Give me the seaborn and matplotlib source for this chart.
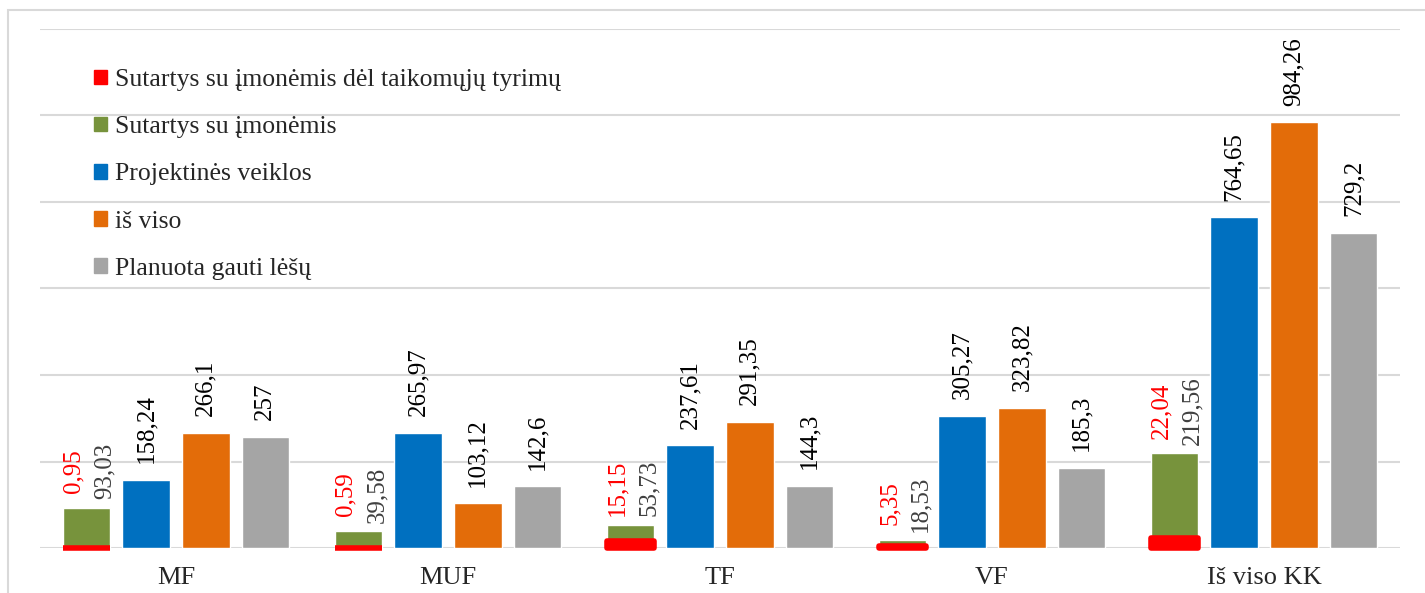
import numpy as np
import pandas as pd
import matplotlib
matplotlib.use("Agg")
import matplotlib.pyplot as plt
from matplotlib.patches import Patch, Rectangle
import seaborn as sns

# duomenys
categories = ["MF", "MUF", "TF", "VF", "Iš viso KK"]
taikomieji = [0.95, 0.59, 15.15, 5.35, 22.04]
imones = [93.03, 39.58, 53.73, 18.53, 219.56]
projektai = [158.24, 265.97, 237.61, 305.27, 764.65]
is_viso = [266.1, 103.12, 291.35, 323.82, 984.26]
planuota = [257, 142.6, 144.3, 185.3, 729.2]

names = ["Sutartys su įmonėmis dėl taikomųjų tyrimų", "Sutartys su įmonėmis",
         "Projektinės veiklos", "iš viso", "Planuota gauti lėšų"]
colors = ["#FF0000", "#77933C", "#0070C0", "#E36C09", "#A5A5A5"]

sns.set_style("white")
plt.rcParams["font.family"] = ["Liberation Serif", "DejaVu Serif"]

df = pd.DataFrame({"kat": categories, names[1]: imones, names[2]: projektai,
                   names[3]: is_viso, names[4]: planuota})
long = df.melt(id_vars="kat", var_name="serija", value_name="reiksme")


def fmt(v):
    return f"{v:g}".replace(".", ",")


fig = plt.figure(figsize=(14.25, 5.93), dpi=100)
W, H = 1425, 593
ax = fig.add_axes([40 / W, (H - 548) / H, (1400 - 40) / W, (548 - 29) / H])

sns.barplot(data=long, x="kat", y="reiksme", hue="serija", order=categories,
            hue_order=names[1:], palette=colors[1:], width=0.876, gap=0.2,
            saturation=1, errorbar=None, legend=False, ax=ax, zorder=2)

ax.set_ylim(0, 1200)
ax.set_xlim(-0.5, 4.5)
ax.set_yticks(np.arange(0, 1201, 200))
ax.set_yticklabels([])
ax.grid(axis="y", color="#D9D9D9", linewidth=1.5, zorder=0)
ax.set_axisbelow(True)
for s in ax.spines.values():
    s.set_visible(False)
ax.tick_params(axis="both", length=0)
ax.tick_params(axis="x", labelsize=19, pad=14)
ax.set_xlabel("")
ax.set_ylabel("")

# raudoni stulpeliai ant žaliųjų
green = sorted(ax.containers[0], key=lambda p: p.get_x())
xs = [p.get_x() for p in green]
w = green[0].get_width()
ax.bar(xs, taikomieji, width=w, align="edge", color=colors[0], edgecolor=colors[0],
       linewidth=4, joinstyle="round", zorder=3, clip_on=False)

# reikšmių etiketės
fs = 18
for cont, vals in zip(ax.containers[1:4], [projektai, is_viso, planuota]):
    ax.bar_label(cont, labels=[fmt(v) for v in vals], rotation=90, padding=12,
                 fontsize=fs, color="black")

for p, g, r in zip(green, imones, taikomieji):
    xc = p.get_x() + p.get_width() / 2
    glab = fmt(g)
    ln = fs * (0.5 * sum(c.isdigit() for c in glab) + 0.25)
    pad = 6
    ax.annotate(glab, (xc, g), xytext=(13, pad), textcoords="offset points",
                rotation=90, ha="center", va="bottom", fontsize=fs, color="#404040")
    ax.annotate(fmt(r), (xc, g), xytext=(-9.5, pad + ln / 2), textcoords="offset points",
                rotation=90, ha="center", va="center", fontsize=fs, color=colors[0])

handles = [Patch(facecolor=c, edgecolor=c) for c in colors]
fig.legend(handles, names, loc="upper left", bbox_to_anchor=(94 / W, 1 - 69 / H),
           frameon=False, fontsize=18.5, handlelength=0.5, handleheight=0.5,
           handletextpad=0.3, labelspacing=0.98, borderpad=0, borderaxespad=0)

fig.add_artist(Rectangle((8 / W, -0.05), 1.1, 1 - 10 / H + 0.05, transform=fig.transFigure,
                         fill=False, edgecolor="#D9D9D9", linewidth=1.5))

fig.savefig("out.png", dpi=100)
